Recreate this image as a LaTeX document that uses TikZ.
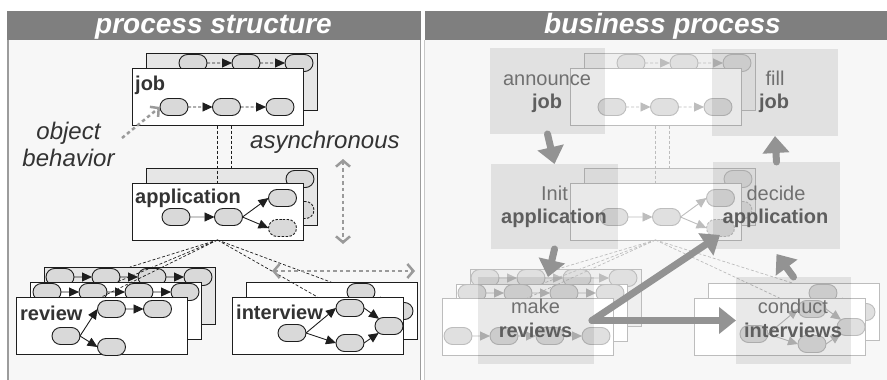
\documentclass[tikz,border=0pt]{standalone}
\usepackage{fontspec}
\setmainfont{Liberation Sans}
\usetikzlibrary{arrows.meta,shapes.misc,calc}
\definecolor{panel}{HTML}{F7F7F7}
\definecolor{hdrc}{HTML}{7F7F7F}
\definecolor{lnL}{HTML}{1E1E1E}
\definecolor{lnS}{HTML}{707070}
\definecolor{backL}{HTML}{E6E6E6}
\definecolor{nodeL}{HTML}{D9D9D9}
\definecolor{txtL}{HTML}{333333}
\definecolor{hint}{HTML}{9A9A9A}
\definecolor{bigc}{HTML}{939393}
\definecolor{ovtxt}{HTML}{707070}
\definecolor{ovtxtb}{HTML}{5E5E5E}
\definecolor{fadeLn}{HTML}{BDBDBD}
\definecolor{fadeBack}{HTML}{EFEFEF}
\definecolor{fadeNode}{HTML}{E0E0E0}
\definecolor{borderA}{HTML}{9C9C9C}
\definecolor{borderB}{HTML}{C8C8C8}
\tikzset{
  boxF/.style={draw=lnL, fill=white, line width=1pt, minimum width=171pt, minimum height=57pt, inner sep=0pt, outer sep=0pt},
  boxB/.style={boxF, fill=backL},
  pill/.style={rounded rectangle, draw=lnL, fill=nodeL, line width=0.9pt, minimum width=28pt, minimum height=17pt, inner sep=0pt, outer sep=0pt},
  pilld/.style={pill, dash pattern=on 2.5pt off 1.5pt},
  flow/.style={draw=lnL, line width=0.9pt, -{Triangle[length=10pt,width=9pt]}},
  flowg/.style={draw=lnS, line width=0.9pt, -{Triangle[length=10pt,width=9pt,color=lnL]}},
  flowd/.style={flow, dash pattern=on 3pt off 2pt},
  link/.style={draw=lnL, line width=0.7pt, dash pattern=on 3pt off 2pt},
  boxlbl/.style={font=\fontsize{20}{22}\selectfont\bfseries, text=txtL, inner sep=0pt, anchor=base west},
  note/.style={font=\fontsize{24}{27}\selectfont\itshape, text=txtL, inner sep=0pt, anchor=base},
  hint arrow/.style={draw=hint, line width=2.5pt, dash pattern=on 3.5pt off 3pt, {Straight Barb[length=6pt,width=14pt]}-{Straight Barb[length=6pt,width=14pt]}},
  hint single/.style={draw=hint, line width=2.5pt, dash pattern=on 3.5pt off 3pt, -{Straight Barb[length=6pt,width=13pt]}},
  hdrbar/.style={fill=hdrc, draw=none, inner sep=0pt, outer sep=0pt, anchor=north west, minimum height=29pt},
  hdrtext/.style={text=white, font=\fontsize{28}{30}\selectfont\bfseries\itshape, inner sep=0pt, anchor=base},
  ov/.style={fill=black, fill opacity=0.085, draw=none, inner sep=0pt, outer sep=0pt, anchor=north west},
  ovt/.style={font=\fontsize{20}{22}\selectfont, text=ovtxt, inner sep=0pt, anchor=base},
  ovb/.style={font=\fontsize{20}{22}\selectfont\bfseries, text=ovtxtb, inner sep=0pt, anchor=base},
  big/.style={draw=bigc, color=bigc, line width=7pt, line cap=round, -{Triangle[length=17pt,width=26pt]}}
}
\newcommand\JobApp{%
  \node[boxB] (jobB) at (231.5,82) {};
  \node[pill] (jb1) at (193,63) {};
  \node[pill] (jb2) at (246,63) {};
  \node[pill] (jb3) at (299,63) {};
  \draw[flowd] (jb1) -- (jb2);
  \draw[flowd] (jb2) -- (jb3);
  \node[boxB] (appB) at (231.5,197) {};
  \node[pill] (ab1) at (300,179) {};
  \node[pilld] (ab2) at (300,210) {};
  \draw[link] (jobB.south) -- (appB.north);
  \node[boxF] (jobF) at (217.5,97) {};
  \node[pill] (jf1) at (174,107) {};
  \node[pill] (jf2) at (226.5,107) {};
  \node[pill] (jf3) at (280,107) {};
  \draw[flowd] (jf1) -- (jf2);
  \draw[flowd] (jf2) -- (jf3);
  \node[boxF] (appF) at (217.5,211.5) {};
  \node[pill] (af1) at (176,217) {};
  \node[pill] (af2) at (228.5,217) {};
  \node[pill] (af3) at (282.5,198) {};
  \node[pilld] (af4) at (282.5,228) {};
  \draw[flowg] (af1) -- (af2);
  \draw[flow] (af2.east) -- (af3.west);
  \draw[flow] (af2.east) -- (af4.west);
  \draw[link] (jobF.south) -- (appF.north);
}
\newcommand\Interview{%
  \node[boxF] (intB) at (332,311) {};
  \node[pill] (ib1) at (361,292) {};
  \node[pill] (ib2) at (399,311) {};
  \draw[flow] (ib1) -- (ib2);
  \node[boxF] (intF) at (317.5,325.5) {};
  \node[pill] (i1) at (292,333) {};
  \node[pill] (i2) at (350,308) {};
  \node[pill] (i3) at (350,343) {};
  \node[pill] (i4) at (389,326) {};
  \draw[flow] (i1.east) -- (i2.west);
  \draw[flow] (i1.east) -- (i3.west);
  \draw[flow] (i2.east) -- (i4);
  \draw[flow] (i3.east) -- (i4);
}
\begin{document}
\begin{tikzpicture}[x=1pt,y=-1pt]
\useasboundingbox (0,0) rectangle (887,380);
\fill[white] (0,0) rectangle (887,380);
% panels
\fill[panel] (8,40) rectangle (420.5,380);
\fill[panel] (424.5,40) rectangle (887,380);
\draw[borderA, line width=1.2pt] (8,40) -- (8,380);
\draw[borderA, line width=1.2pt] (420.5,40) -- (420.5,380);
\draw[borderB, line width=1.5pt] (424.5,40) -- (424.5,380);
\node[hdrbar, minimum width=414pt] (hL) at (7,11) {};
\node[hdrbar, minimum width=462pt] (hR) at (425,11) {};
\node[hdrtext] (tL) at (213.5,33) {process structure};
\node[hdrtext] (tR) at (662.5,33) {business process};

% ===== left panel =====
\JobApp
\node[boxlbl] (jobT) at (135,90) {job};
\node[boxlbl] (appT) at (135,203) {application};
% review stack
\node[boxB] (revB) at (130,295.5) {};
\node[pill] (rb1) at (60,277) {};
\node[pill] (rb2) at (106,277) {};
\node[pill] (rb3) at (152,277) {};
\node[pill] (rb4) at (198,277) {};
\draw[flow] (rb1) -- (rb2);
\draw[flow] (rb2) -- (rb3);
\draw[flow] (rb3) -- (rb4);
\node[boxF] (revM) at (116,311) {};
\node[pill] (rm1) at (47,292) {};
\node[pill] (rm2) at (93,292) {};
\node[pill] (rm3) at (139,292) {};
\node[pill] (rm4) at (185,292) {};
\draw[flow] (rm1) -- (rm2);
\draw[flow] (rm2) -- (rm3);
\draw[flow] (rm3) -- (rm4);
\node[boxF] (revF) at (101.5,325.5) {};
\node[pill] (r1) at (66,336) {};
\node[pill] (r2) at (111.5,309) {};
\node[pill] (r3) at (157.5,309) {};
\node[pill] (r4) at (111.5,347) {};
\draw[flow] (r1.east) -- (r2.west);
\draw[flow] (r2) -- (r3);
\draw[flow] (r1.east) -- (r4.west);
\node[boxlbl] (revT) at (20,320) {review};
\Interview
\node[boxlbl] (intT) at (236,319) {interview};
\foreach \t in {revB,revM,revF,intB,intF}
  \draw[link] (appF.south) -- (\t.north);
% annotations
\node[note] (ob1) at (68.5,139) {object};
\node[note] (ob2) at (68.5,166) {behavior};
\coordinate (obTail) at (122,138);
\draw[hint single] (obTail) -- (jf1.west);
\node[note, anchor=base west] (asy) at (250,148) {asynchronous};
\coordinate (asT) at (343,159);
\coordinate (asB) at (343,244);
\draw[hint arrow] (asT) -- (asB);
\coordinate (ahL) at (272,271);
\coordinate (ahR) at (415,271);
\draw[hint arrow] (ahL) -- (ahR);

% ===== right panel =====
\begin{scope}
  \colorlet{lnL}{fadeLn}
  \colorlet{lnS}{fadeLn}
  \colorlet{backL}{fadeBack}
  \colorlet{nodeL}{fadeNode}
  \begin{scope}[xshift=438pt, name prefix=R-]
    \JobApp
  \end{scope}
  \node[boxB] (R-revB) at (556,298) {};
  \node[pill] (R-rb1) at (485,278) {};
  \node[pill] (R-rb2) at (531,278) {};
  \node[pill] (R-rb3) at (577,278) {};
  \node[pill] (R-rb4) at (623,278) {};
  \draw[flow] (R-rb1) -- (R-rb2);
  \draw[flow] (R-rb2) -- (R-rb3);
  \draw[flow] (R-rb3) -- (R-rb4);
  \node[boxF] (R-revM) at (541.5,312.5) {};
  \node[pill] (R-rm1) at (472,293) {};
  \node[pill] (R-rm2) at (518,293) {};
  \node[pill] (R-rm3) at (564,293) {};
  \node[pill] (R-rm4) at (610,293) {};
  \draw[flow] (R-rm1) -- (R-rm2);
  \draw[flow] (R-rm2) -- (R-rm3);
  \draw[flow] (R-rm3) -- (R-rm4);
  \node[boxF] (R-revF) at (527.5,326.5) {};
  \node[pill] (R-r1) at (458,336) {};
  \node[pill] (R-r2) at (504,336) {};
  \node[pill] (R-r3) at (550,336) {};
  \node[pill] (R-r4) at (596,336) {};
  \draw[flow] (R-r1) -- (R-r2);
  \draw[flow] (R-r2) -- (R-r3);
  \draw[flow] (R-r3) -- (R-r4);
  \begin{scope}[xshift=462pt, yshift=-1pt, name prefix=R-]
    \Interview
  \end{scope}
  \foreach \t in {R-revB,R-revM,R-revF,R-intB,R-intF}
    \draw[link] (R-appF.south) -- (\t.north);
\end{scope}
% overlays
\node[ov, minimum width=115pt, minimum height=86pt] (oAnn) at (490,48) {};
\node[ov, minimum width=126pt, minimum height=87pt] (oFill) at (712,49) {};
\node[ov, minimum width=127pt, minimum height=85pt] (oInit) at (491,164) {};
\node[ov, minimum width=127pt, minimum height=87pt] (oDec) at (713,162) {};
\node[ov, minimum width=116pt, minimum height=87pt] (oMake) at (478,277) {};
\node[ov, minimum width=115pt, minimum height=87pt] (oCond) at (736,277) {};
\node[ovt] (tAnn1) at (547,85) {announce};
\node[ovb] (tAnn2) at (547,108) {job};
\node[ovt] (tFill1) at (775,85) {fill};
\node[ovb] (tFill2) at (774,108) {job};
\node[ovt] (tInit1) at (554.5,200) {Init};
\node[ovb] (tInit2) at (554,223) {application};
\node[ovt] (tDec1) at (776,200) {decide};
\node[ovb] (tDec2) at (775.5,223) {application};
\node[ovt] (tMake1) at (535.5,313) {make};
\node[ovb] (tMake2) at (535.5,337) {reviews};
\node[ovt] (tCond1) at (793,313) {conduct};
\node[ovb] (tCond2) at (793,337) {interviews};
% thick flow arrows
\draw[big] (oAnn.south) -- (oInit.north);
\draw[big] (oDec.north) -- (oFill.south);
\draw[big] (oInit.south) -- ([xshift=12pt]oMake.north);
\draw[big] ([xshift=-2pt]oMake.east) -- ([xshift=7pt,yshift=14pt]oDec.south west);
\draw[big] ([xshift=-2pt]oMake.east) -- (oCond.west);
\draw[big] (oCond.north) -- ([yshift=-5pt]oDec.south);
\end{tikzpicture}
\end{document}
